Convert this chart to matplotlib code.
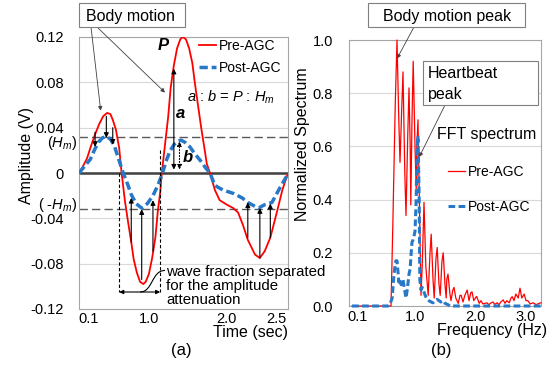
import numpy as np
import matplotlib.pyplot as plt
from matplotlib.patches import Rectangle, PathPatch
from matplotlib.path import Path

plt.rcParams['font.family'] = ['Liberation Sans', 'DejaVu Sans']
plt.rcParams['mathtext.fontset'] = 'custom'
plt.rcParams['mathtext.rm'] = 'Liberation Sans'
plt.rcParams['mathtext.it'] = 'Liberation Sans:italic'

# ---- (a) waveform ----
time_pre = [0.00, 0.05, 0.10, 0.15, 0.20, 0.25, 0.30, 0.35, 0.39, 0.42, 0.46, 0.50, 0.53,
            0.57, 0.61, 0.65, 0.68, 0.72, 0.76, 0.80, 0.83, 0.87, 0.91, 0.95, 0.98, 1.01, 1.03,
            1.07, 1.11, 1.14, 1.18, 1.22, 1.26, 1.29, 1.33, 1.37, 1.41, 1.44, 1.48, 1.52, 1.56, 1.59, 1.63,
            1.69, 1.75, 1.84, 1.92, 1.98, 2.04, 2.10, 2.19, 2.25, 2.31, 2.38, 2.46, 2.53, 2.59]
amp_pre = [0.000, 0.006, 0.013, 0.024, 0.034, 0.043, 0.050, 0.053, 0.052, 0.047, 0.038, 0.022, 0.000,
           -0.024, -0.043, -0.061, -0.076, -0.088, -0.096, -0.098, -0.096, -0.089, -0.075, -0.057, -0.034, -0.017, 0.000,
           0.025, 0.050, 0.075, 0.095, 0.110, 0.118, 0.120, 0.118, 0.110, 0.097, 0.080, 0.060, 0.040, 0.022, 0.008, 0.000,
           -0.015, -0.024, -0.028, -0.031, -0.035, -0.046, -0.059, -0.072, -0.075, -0.069, -0.057, -0.035, -0.015, -0.002]

time_post = [0.00, 0.07, 0.14, 0.19, 0.24, 0.29, 0.34, 0.39, 0.44, 0.49, 0.55,
             0.60, 0.65, 0.71, 0.78, 0.85, 0.92, 0.98, 1.04,
             1.08, 1.13, 1.18, 1.23, 1.27, 1.32, 1.38, 1.44, 1.51, 1.57, 1.63,
             1.69, 1.79, 1.92, 2.03, 2.10, 2.23, 2.31, 2.40, 2.50, 2.59]
amp_post = [0.000, 0.006, 0.012, 0.020, 0.027, 0.031, 0.032, 0.030, 0.024, 0.013, 0.000,
            -0.009, -0.019, -0.027, -0.031, -0.027, -0.020, -0.011, 0.000,
            0.010, 0.019, 0.025, 0.028, 0.029, 0.027, 0.023, 0.017, 0.011, 0.005, 0.000,
            -0.011, -0.015, -0.018, -0.022, -0.026, -0.031, -0.028, -0.026, -0.013, -0.002]

hm = 0.032

time_ticks = [0.12, 0.87, 1.84, 2.45]
time_labels = ['0.1', '1.0', '2.0', '2.5']
amp_ticks = [-0.12, -0.08, -0.04, 0, 0.04, 0.08, 0.12]
amp_labels = ['-0.12', '-0.08', '-0.04', '0', '0.04', '0.08', '0.12']

# attenuation arrows: (time, from red, to blue)
down_arrows = [(0.20, 0.036, 0.023), (0.34, 0.050, 0.031), (0.42, 0.040, 0.025)]
up_arrows = [(0.65, -0.061, -0.022), (0.78, -0.094, -0.032), (0.92, -0.069, -0.024),
             (2.10, -0.057, -0.026), (2.25, -0.075, -0.031), (2.38, -0.057, -0.027)]

# ---- (b) spectrum ----
freq_pre = [0.00, 0.30, 0.55, 0.65, 0.68, 0.72, 0.75, 0.78, 0.80, 0.83, 0.85, 0.88, 0.90, 0.93,
            0.95, 0.97, 0.98, 1.00, 1.02, 1.05, 1.07, 1.08, 1.10, 1.13, 1.15, 1.17, 1.20, 1.23, 1.27,
            1.30, 1.32, 1.35, 1.37, 1.40, 1.42, 1.45, 1.47, 1.50, 1.52, 1.55, 1.57, 1.58, 1.60, 1.63,
            1.65, 1.68, 1.70, 1.73, 1.77, 1.80, 1.82, 1.85, 1.88, 1.92, 1.95, 1.98, 2.00, 2.03, 2.07,
            2.08, 2.12, 2.15, 2.18, 2.22, 2.25, 2.28, 2.32, 2.35, 2.38, 2.42, 2.45, 2.48, 2.52, 2.55,
            2.58, 2.62, 2.65, 2.67, 2.70, 2.73, 2.77, 2.80, 2.83, 2.87, 2.90, 2.93, 2.97, 3.02, 3.07,
            3.12, 3.15]
spec_pre = [0, 0, 0, 0, 0.30, 0.75, 1.00, 0.70, 0.54, 0.75, 0.88, 0.50, 0.34, 0.65,
            0.82, 0.60, 0.38, 0.70, 0.92, 0.60, 0.44, 0.60, 0.70, 0.30, 0.04, 0.15, 0.39, 0.15, 0.04,
            0.20, 0.27, 0.10, 0.03, 0.18, 0.22, 0.08, 0.04, 0.17, 0.20, 0.08, 0.03, 0.10, 0.12, 0.05,
            0.02, 0.06, 0.07, 0.03, 0.01, 0.04, 0.04, 0.015, 0.04, 0.06, 0.02, 0.05, 0.053, 0.02, 0.035,
            0.035, 0.01, 0.02, 0.008, 0.01, 0.012, 0.005, 0.012, 0.015, 0.006, 0.012, 0.005, 0.015, 0.023, 0.01,
            0.02, 0.012, 0.03, 0.035, 0.02, 0.045, 0.03, 0.067, 0.03, 0.045, 0.02, 0.02, 0.008, 0.012, 0.005,
            0.01, 0.012]

freq_post = [0.00, 0.60, 0.63, 0.67, 0.70, 0.73, 0.75, 0.77, 0.78, 0.80, 0.82, 0.83, 0.85, 0.87, 0.90,
             0.92, 0.95, 0.97, 0.98, 1.00, 1.02, 1.03, 1.05, 1.07, 1.08, 1.10, 1.12, 1.13, 1.15, 1.17,
             1.18, 1.22, 1.25, 1.28, 1.32, 1.35, 1.38, 1.42, 1.45, 1.48, 1.52, 1.55, 1.60, 1.63, 3.15]
spec_post = [0, 0, 0.005, 0.03, 0.12, 0.17, 0.17, 0.12, 0.09, 0.10, 0.08, 0.10, 0.10, 0.07, 0.03,
             0.06, 0.12, 0.14, 0.18, 0.24, 0.25, 0.26, 0.28, 0.40, 0.55, 0.64, 0.40, 0.10, 0.06, 0.07,
             0.065, 0.04, 0.025, 0.02, 0.015, 0.012, 0.02, 0.025, 0.02, 0.015, 0.02, 0.01, 0.005, 0, 0]

freq_ticks = [0.10, 1.05, 2.05, 2.90]
freq_labels = ['0.1', '1.0', '2.0', '3.0']
spec_ticks = [0.0, 0.2, 0.4, 0.6, 0.8, 1.0]
spec_labels = ['0.0', '0.2', '0.4', '0.6', '0.8', '1.0']

RED = '#ff0000'
BLUE = '#2878c8'
GRID = '#d9d9d9'
EDGE = '#a6a6a6'
ARR = '#404040'

W, H = 558, 366
fig = plt.figure(figsize=(W / 100, H / 100), dpi=100)


def fxy(x, y):
    # pixel (from top-left) -> figure fraction
    return x / W, 1 - y / H


ax1 = fig.add_axes([79 / W, 1 - 309 / H, 209 / W, 272 / H])
ax2 = fig.add_axes([349 / W, 1 - 306 / H, 192 / W, 266 / H])

for ax in (ax1, ax2):
    for s in ax.spines.values():
        s.set_color(EDGE)
        s.set_linewidth(0.8)
    ax.grid(axis='y', color=GRID, lw=0.8)
    ax.set_axisbelow(True)
    ax.tick_params(length=0, labelsize=10.5)

# ---------- (a) ----------
ax1.set_xlim(0, 2.6)
ax1.set_ylim(-0.12, 0.12)
ax1.set_xticks(time_ticks, time_labels)
ax1.set_yticks(amp_ticks, amp_labels)
ax1.tick_params(axis='y', pad=11)
ax1.tick_params(axis='x', pad=2)

ax1.axhline(0, color='#404040', lw=1.8, zorder=1.5)
ax1.axhline(hm, color='#595959', lw=1.0, ls=(0, (6, 3)), zorder=1.6)
ax1.axhline(-hm, color='#595959', lw=1.0, ls=(0, (6, 3)), zorder=1.6)

ax1.plot(time_pre, amp_pre, color=RED, lw=1.3, zorder=3, label='Pre-AGC')
ax1.plot(time_post, amp_post, color=BLUE, lw=2.5, ls=(0, (2.4, 1.1)), zorder=4, label='Post-AGC')
ax1.legend(loc='upper left', bbox_to_anchor=(0.574, 0.993), frameon=False, fontsize=10,
           handlelength=1.25, handletextpad=0.15, labelspacing=0.6, borderpad=0, borderaxespad=0)

arr_kw = dict(arrowstyle='-|>', color='k', lw=0.8, mutation_scale=7, shrinkA=0, shrinkB=0)
for t, v0, v1 in down_arrows + up_arrows:
    ax1.annotate('', xy=(t, v1), xytext=(t, v0), arrowprops=arr_kw, zorder=5)

# a and b
ax1.annotate('', xy=(1.18, 0.092), xytext=(1.18, 0.003),
             arrowprops=dict(arrowstyle='<|-|>', color='k', lw=0.8, mutation_scale=7, shrinkA=0, shrinkB=0), zorder=5)
ax1.annotate('', xy=(1.25, 0.028), xytext=(1.25, 0.003),
             arrowprops=dict(arrowstyle='<|-|>', color='k', lw=0.8, ls=':', mutation_scale=7, shrinkA=0, shrinkB=0), zorder=5)

# separated wave fraction bracket
ax1.plot([0.50, 0.50], [0.0, -0.105], color='k', lw=0.8, ls=(0, (3, 2)), zorder=5)
ax1.plot([1.01, 1.01], [0.020, -0.105], color='k', lw=0.8, ls=(0, (3, 2)), zorder=5)
ax1.annotate('', xy=(0.50, -0.105), xytext=(1.01, -0.105),
             arrowprops=dict(arrowstyle='<|-|>', color='k', lw=0.8, mutation_scale=6, shrinkA=0, shrinkB=0), zorder=5)
curl = Path([(0.76, -0.105), (0.92, -0.105), (0.90, -0.086), (1.07, -0.086)],
            [Path.MOVETO, Path.CURVE4, Path.CURVE4, Path.CURVE4])
ax1.add_patch(PathPatch(curl, fill=False, lw=0.8, ec='k', clip_on=False, zorder=5))

# ---------- (b) ----------
ax2.set_xlim(-0.05, 3.15)
ax2.set_ylim(0, 1.0)
ax2.set_xticks(freq_ticks, freq_labels)
ax2.set_yticks(spec_ticks, spec_labels)
ax2.tick_params(axis='y', pad=11.5)
ax2.tick_params(axis='x', pad=3)

ax2.plot(freq_pre, spec_pre, color=RED, lw=0.9, zorder=3, clip_on=False, label='Pre-AGC')
ax2.plot(freq_post, spec_post, color=BLUE, lw=2.2, ls=(0, (2.2, 1.1)), zorder=4, clip_on=False,
         label='Post-AGC')
ax2.legend(loc='upper left', bbox_to_anchor=(0.516, 0.530), frameon=False, fontsize=10,
           handlelength=1.25, handletextpad=0.15, labelspacing=1.5, borderpad=0, borderaxespad=0)

# ---------- text & callouts ----------
box_kw = dict(transform=fig.transFigure, fill=True, fc='white', ec='#7f7f7f', lw=0.8, zorder=6)
fig.add_artist(Rectangle(fxy(79, 27), 106 / W, 24 / H, **box_kw))
fig.add_artist(Rectangle(fxy(368, 27), 157 / W, 24 / H, **box_kw))
fig.add_artist(Rectangle(fxy(423, 105), 115 / W, 44 / H, **box_kw))

fig.text(*fxy(130, 16), 'Body motion', fontsize=11.5, ha='center', va='center', zorder=7)
fig.text(*fxy(447, 16), 'Body motion peak', fontsize=11.5, ha='center', va='center', zorder=7)
fig.text(*fxy(428, 74), 'Heartbeat', fontsize=11.5, ha='left', va='center', zorder=7)
fig.text(*fxy(428, 94), 'peak', fontsize=11.5, ha='left', va='center', zorder=7)
fig.text(*fxy(437, 134), 'FFT spectrum', fontsize=11.5, ha='left', va='center')

call_kw = dict(arrowstyle='-|>', color=ARR, lw=0.6, mutation_scale=6, shrinkA=0, shrinkB=0)
ax1.annotate('', xy=(0.27, 0.055), xytext=fxy(91, 27), textcoords='figure fraction',
             arrowprops=call_kw, annotation_clip=False)
ax1.annotate('', xy=(1.07, 0.071), xytext=fxy(97, 27), textcoords='figure fraction',
             arrowprops=call_kw, annotation_clip=False)
ax2.annotate('', xy=(0.75, 0.93), xytext=fxy(414, 27), textcoords='figure fraction',
             arrowprops=call_kw, annotation_clip=False)
ax2.annotate('', xy=(1.12, 0.56), xytext=fxy(445, 105), textcoords='figure fraction',
             arrowprops=call_kw, annotation_clip=False)

fig.text(*fxy(163, 45), 'P', fontsize=12, fontweight='bold', style='italic', ha='center', va='center')
fig.text(*fxy(187, 97), r'$a$ : $b$ = $P$ : $H_m$', fontsize=10.5, ha='left', va='center')
fig.text(*fxy(181, 113), 'a', fontsize=12, fontweight='bold', style='italic', ha='center', va='center')
fig.text(*fxy(188, 158), 'b', fontsize=12, fontweight='bold', style='italic', ha='center', va='center')

fig.text(*fxy(77, 143), r'($H_m$)', fontsize=10.5, ha='right', va='center')
fig.text(*fxy(77, 205), r'( -$H_m$)', fontsize=10.5, ha='right', va='center')

fig.text(*fxy(166, 272), 'wave fraction separated', fontsize=10.8, ha='left', va='center')
fig.text(*fxy(166, 286), 'for the amplitude', fontsize=10.8, ha='left', va='center')
fig.text(*fxy(166, 300), 'attenuation', fontsize=10.8, ha='left', va='center')

fig.text(*fxy(26, 156), 'Amplitude (V)', fontsize=11.5, rotation=90, ha='center', va='center')
fig.text(*fxy(303, 144), 'Normalized Spectrum', fontsize=11.5, rotation=90, ha='center', va='center')
fig.text(*fxy(288, 332), 'Time (sec)', fontsize=11.5, ha='right', va='center')
fig.text(*fxy(547, 331), 'Frequency (Hz)', fontsize=11.5, ha='right', va='center')
fig.text(*fxy(181, 350), '(a)', fontsize=12, ha='center', va='center')
fig.text(*fxy(441, 351), '(b)', fontsize=12, ha='center', va='center')

fig.savefig('out.png', dpi=100)
